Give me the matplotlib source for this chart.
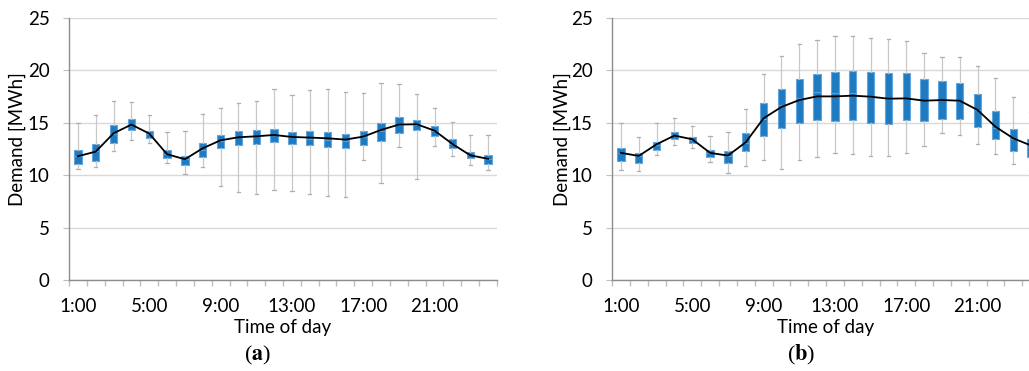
import matplotlib
matplotlib.use("Agg")
import matplotlib.pyplot as plt
import numpy as np

plt.rcParams['font.family'] = ['Lato', 'DejaVu Sans']
plt.rcParams['mathtext.fontset'] = 'stix'

hours = list(range(1, 25))
tick_labels = ['1:00', '5:00', '9:00', '13:00', '17:00', '21:00']

# panel (a)
a_mean = [11.81, 12.25, 14.0, 14.83, 13.97, 12.0, 11.52, 12.57, 13.33, 13.62, 13.71, 13.84,
          13.65, 13.59, 13.52, 13.4, 13.68, 14.32, 14.83, 14.86, 14.25, 12.98, 11.9, 11.56]
a_q1 = [11.11, 11.40, 13.11, 14.32, 13.59, 11.68, 10.95, 11.71, 12.63, 12.92, 13.02, 13.17,
        13.02, 12.86, 12.73, 12.63, 12.86, 13.27, 14.06, 14.29, 13.71, 12.57, 11.62, 11.11]
a_q3 = [12.38, 12.98, 14.76, 15.33, 14.19, 12.38, 11.87, 13.08, 13.81, 14.25, 14.32, 14.38,
        14.1, 14.19, 14.1, 13.97, 14.19, 14.98, 15.52, 15.24, 14.67, 13.46, 12.22, 11.97]
a_med = [11.8, 12.3, 13.9, 14.8, 13.9, 12.0, 11.5, 12.4, 13.3, 13.6, 13.7, 13.8,
         13.6, 13.5, 13.4, 13.3, 13.6, 14.2, 14.8, 14.8, 14.2, 13.0, 11.9, 11.5]
a_lo = [10.57, 10.76, 12.29, 13.37, 13.05, 11.14, 10.13, 10.83, 8.98, 8.38, 8.19, 8.57,
        8.48, 8.19, 8.0, 7.9, 11.43, 9.24, 12.67, 9.62, 12.83, 11.81, 10.95, 10.48]
a_hi = [14.95, 15.71, 17.05, 16.98, 15.71, 14.1, 14.22, 15.81, 16.38, 16.89, 17.05, 18.19,
        17.62, 18.1, 18.19, 17.9, 17.81, 18.76, 18.67, 17.71, 16.38, 15.08, 13.81, 13.81]

# panel (b)
b_mean = [12.13, 11.84, 12.95, 13.78, 13.43, 12.13, 11.87, 13.14, 15.43, 16.51, 17.17, 17.52,
          17.52, 17.59, 17.49, 17.3, 17.33, 17.11, 17.17, 17.11, 16.22, 14.63, 13.52, 12.83]
b_q1 = [11.4, 11.17, 12.41, 13.46, 13.05, 11.78, 11.21, 12.29, 13.71, 14.51, 14.98, 15.24,
        15.17, 15.24, 15.02, 14.92, 15.3, 15.21, 15.4, 15.33, 14.57, 13.46, 12.29, 11.75]
b_q3 = [12.57, 12.13, 13.14, 14.1, 13.62, 12.38, 12.32, 14.06, 16.86, 18.25, 19.17, 19.68,
        19.84, 19.9, 19.84, 19.71, 19.71, 19.21, 18.95, 18.83, 17.78, 16.1, 14.38, 13.49]
b_med = [12.1, 11.8, 12.9, 13.8, 13.4, 12.1, 11.8, 13.1, 15.4, 16.7, 17.4, 17.9,
         17.8, 17.8, 17.5, 17.3, 17.4, 17.2, 17.2, 17.1, 16.2, 14.5, 13.5, 12.7]
b_lo = [10.48, 10.38, 11.9, 12.86, 12.57, 11.24, 10.19, 10.92, 11.43, 10.57, 11.43, 11.71,
        12.1, 12.0, 11.81, 11.81, 12.1, 12.76, 14.0, 13.87, 12.95, 12.0, 11.05, 10.5]
b_hi = [14.95, 13.68, 14.95, 15.49, 14.67, 13.71, 14.1, 16.29, 19.65, 21.37, 22.48, 22.89,
        23.27, 23.33, 23.05, 22.95, 22.76, 21.62, 21.24, 21.24, 20.38, 19.24, 17.43, 16.0]

fig = plt.figure(figsize=(10.29, 3.71), dpi=100)

panels = [
    (a_mean, a_q1, a_q3, a_med, a_lo, a_hi, 69, 17, 258, 'a'),
    (b_mean, b_q1, b_q3, b_med, b_lo, b_hi, 612, 562, 801, 'b'),
]

W, H = 1029, 371
for mean, q1, q3, med, lo, hi, x0, ylab_x, tag_x, tag in panels:
    ax = fig.add_axes([x0 / W, (H - 280) / H, 428 / W, 262 / H])
    stats = []
    for i in range(24):
        stats.append(dict(med=med[i], q1=q1[i], q3=q3[i], whislo=lo[i], whishi=hi[i], fliers=[]))
    ax.bxp(stats, positions=hours, widths=0.42, patch_artist=True, showfliers=False,
           capwidths=0.18,
           boxprops=dict(facecolor='#1F7BC1', edgecolor='#62A6DD', linewidth=0.8),
           medianprops=dict(color='#5AA0D8', linewidth=0.8),
           whiskerprops=dict(color='#C8C8C8', linewidth=0.9),
           capprops=dict(color='#B0B0B0', linewidth=0.9))
    ax.plot(hours, mean, color='black', linewidth=1.3, zorder=5)

    ax.set_xlim(0.5, 24.5)
    ax.set_ylim(0, 25)
    ax.set_yticks([0, 5, 10, 15, 20, 25])
    ax.set_xticks([1, 5, 9, 13, 17, 21])
    ax.set_xticklabels(tick_labels)
    ax.set_xticks(np.arange(0.5, 25, 1), minor=True)
    ax.grid(axis='y', color='#D9D9D9', linewidth=1)
    ax.set_axisbelow(True)
    for s in ['top', 'right']:
        ax.spines[s].set_visible(False)
    for s in ['left', 'bottom']:
        ax.spines[s].set_color('#8C8C8C')
        ax.spines[s].set_linewidth(1)
    ax.tick_params(axis='x', which='major', length=0, pad=13, labelsize=13.5, colors='black')
    ax.tick_params(axis='x', which='minor', length=4, color='#BFBFBF', width=1)
    ax.tick_params(axis='y', length=4, color='#BFBFBF', pad=10, labelsize=13.5)
    ax.set_xlabel('Time of day', fontsize=13.5, labelpad=0)
    ax.xaxis.set_label_coords(0.5, -(327 - 280) / 262, transform=ax.transAxes)
    ax.xaxis.label.set_va('center')

    fig.text(ylab_x / W, 1 - 139 / H, 'Demand [MWh]', rotation=90, ha='center', va='center',
             fontsize=13.5)
    fig.text(tag_x / W, 1 - 355 / H, '($\\mathbf{' + tag + '}$)', ha='center', va='center',
             fontsize=16, family='Liberation Serif')

fig.savefig('out.png', dpi=100)
